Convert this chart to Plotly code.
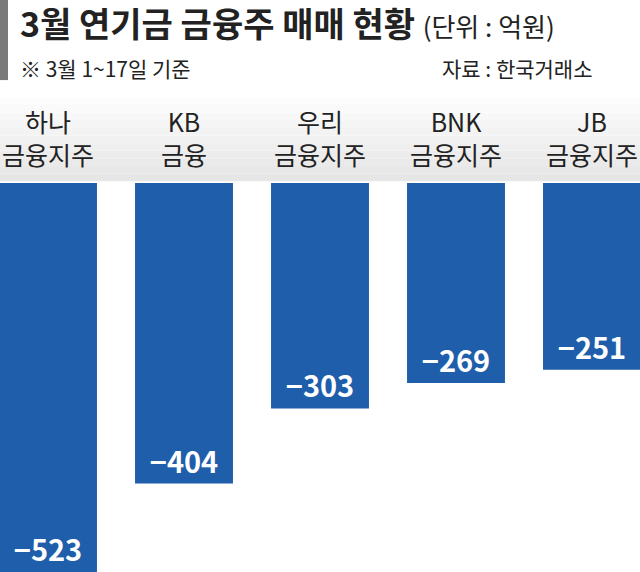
import plotly.graph_objects as go

categories = ["하나<br>금융지주", "KB<br>금융", "우리<br>금융지주", "BNK<br>금융지주", "JB<br>금융지주"]
values = [-523, -404, -303, -269, -251]
value_labels = ["−523", "−404", "−303", "−269", "−251"]

FONT = "Noto Sans CJK KR"
BLUE = "#1f5eab"

fig = go.Figure(go.Bar(
    x=list(range(len(values))), y=values, width=0.72,
    marker=dict(color=BLUE, line_width=0),
    text=["<b>%s</b>" % v for v in value_labels], textposition="inside", insidetextanchor="end",
    textfont=dict(family=FONT, size=29, color="white"),
    textangle=0, cliponaxis=False,
))

# header band with a soft vertical gradient
n = 12
top, bot = 0.843, 0.683
for i in range(n):
    y0 = bot + (top - bot) * i / n
    y1 = bot + (top - bot) * (i + 1) / n
    g = int(230 + (255 - 230) * i / (n - 1))
    fig.add_shape(type="rect", xref="paper", yref="paper", x0=0, x1=1, y0=y0, y1=y1,
                  fillcolor=f"rgb({g},{g},{g})", line_width=0, layer="below")

# grey accent on the left of the title
fig.add_shape(type="rect", xref="paper", yref="paper", x0=0, x1=0.0125, y0=0.86, y1=1.0,
              fillcolor="#7a7a7a", line_width=0)

for i, c in enumerate(categories):
    fig.add_annotation(x=i, y=0.759, xref="x", yref="paper", text=c, showarrow=False,
                       font=dict(family=FONT, size=25, color="#222"), yanchor="middle")

fig.add_annotation(x=0.028, y=0.96, xref="paper", yref="paper", xanchor="left", yanchor="middle",
                   text="<b>3월 연기금 금융주 매매 현황</b> <span style='font-size:26px'>(단위 : 억원)</span>",
                   showarrow=False, font=dict(family=FONT, size=34, color="#222"))
fig.add_annotation(x=0.028, y=0.881, xref="paper", yref="paper", xanchor="left", yanchor="middle",
                   text="※ 3월 1~17일 기준", showarrow=False, font=dict(family=FONT, size=21, color="#222"))
fig.add_annotation(x=0.93, y=0.881, xref="paper", yref="paper", xanchor="right", yanchor="middle",
                   text="자료 : 한국거래소", showarrow=False, font=dict(family=FONT, size=21, color="#222"))

fig.update_layout(
    width=640, height=572, margin=dict(l=0, r=0, t=0, b=0),
    paper_bgcolor="white", plot_bgcolor="rgba(0,0,0,0)", showlegend=False,
    xaxis=dict(range=[-0.353, 4.353], visible=False, domain=[0, 1]),
    yaxis=dict(range=[-523, 0], visible=False, domain=[0, 0.68]),
)

fig.write_html("out.html", config={"displayModeBar": False},
               post_script="document.body.style.margin='0';")
